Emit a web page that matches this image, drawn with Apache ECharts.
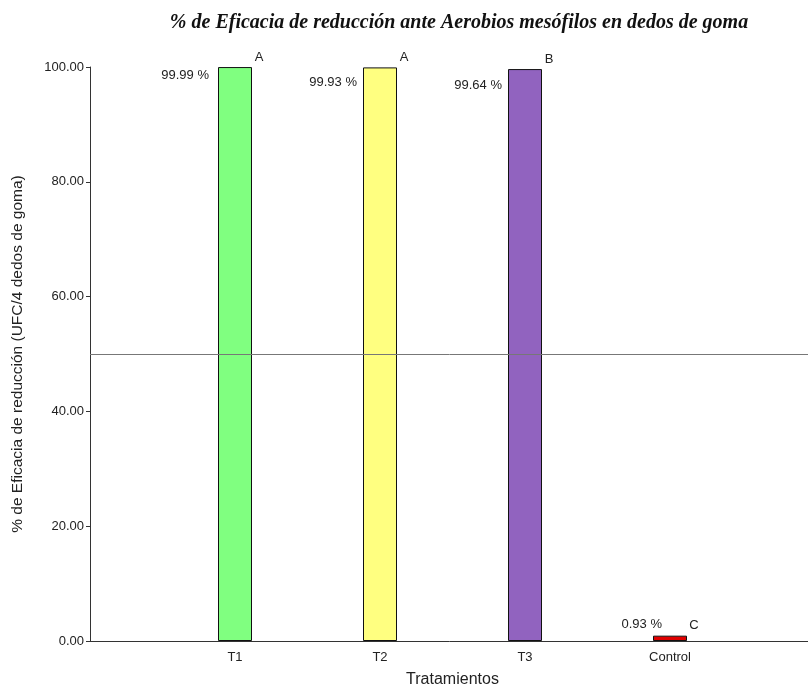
<!DOCTYPE html>
<html>
<head>
<meta charset="utf-8">
<script src="https://cdn.jsdelivr.net/npm/echarts@6/dist/echarts.min.js"></script>
<style>
  html, body { margin: 0; padding: 0; background: #fff; }
  #chart { width: 808px; height: 686px; }
</style>
</head>
<body>
<div id="chart"></div>
<script>
// Treatments and their reduction efficacy (%)
const categories = ['T1', 'T2', 'T3', 'Control'];
const efficacy = [99.99, 99.93, 99.64, 0.93];
const groupLetters = ['A', 'A', 'B', 'C'];
const barColors = ['#80FF80', '#FFFF80', '#9163BF', '#E00000'];
const yTicks = [0, 20, 40, 60, 80, 100];
const referenceLine = 50;

// Offsets of the value labels relative to each bar's top-left corner
const valueLabelOffsets = [[-9, 8], [-6, 15], [-6, 16], [9, -11]];

// Pad the category axis with empty slots on both sides
const axisCats = [''].concat(categories, ['']);

const barData = efficacy.map((v, i) => ({
  value: v,
  itemStyle: { color: barColors[i] },
  label: { offset: valueLabelOffsets[i] }
}));

const letterData = efficacy.map((v, i) => ({ value: v, letter: groupLetters[i] }));

const pad = arr => [null].concat(arr, [null]);

const sans = '"Liberation Sans", Arial, sans-serif';

const chart = echarts.init(document.getElementById('chart'), null, { renderer: 'canvas' });

chart.setOption({
  animation: false,
  backgroundColor: '#fff',
  title: {
    text: '% de Eficacia de reducción ante Aerobios mesófilos en dedos de goma',
    left: 454,
    textAlign: 'center',
    top: 8,
    textStyle: {
      fontFamily: '"Liberation Serif", "DejaVu Serif", serif',
      fontStyle: 'italic',
      fontWeight: 'bold',
      fontSize: 20,
      color: '#111'
    }
  },
  grid: { left: 90, top: 67, bottom: 45, right: -7, containLabel: false, outerBoundsMode: 'none' },
  xAxis: {
    type: 'category',
    data: axisCats,
    boundaryGap: false,
    name: 'Tratamientos',
    nameLocation: 'middle',
    nameGap: 31,
    nameTextStyle: { fontFamily: sans, fontSize: 16, color: '#222' },
    axisLine: { lineStyle: { color: '#333', width: 1 } },
    axisTick: { show: false },
    axisLabel: { fontFamily: sans, fontSize: 13, color: '#222', margin: 10, interval: 0 },
    splitLine: { show: false }
  },
  yAxis: {
    type: 'value',
    min: yTicks[0],
    max: yTicks[yTicks.length - 1],
    interval: 20,
    name: '% de Eficacia de reducción (UFC/4 dedos de goma)',
    nameLocation: 'middle',
    nameGap: 64,
    nameTextStyle: { fontFamily: sans, fontSize: 15.5, color: '#222' },
    axisLine: { show: true, lineStyle: { color: '#333', width: 1 } },
    axisTick: { show: true, length: 4, lineStyle: { color: '#333' } },
    axisLabel: {
      fontFamily: sans,
      fontSize: 13,
      color: '#222',
      margin: 6,
      formatter: v => v.toFixed(2)
    },
    splitLine: { show: false }
  },
  series: [
    {
      type: 'bar',
      data: pad(barData),
      barWidth: 34,
      itemStyle: { borderColor: '#111', borderWidth: 1 },
      label: {
        show: true,
        position: [0, 0],
        align: 'right',
        verticalAlign: 'middle',
        fontFamily: sans,
        fontSize: 13,
        color: '#222',
        formatter: p => p.value.toFixed(2) + ' %'
      },
      markLine: {
        silent: true,
        symbol: 'none',
        label: { show: false },
        lineStyle: { color: '#777', width: 1, type: 'solid' },
        data: [{ yAxis: referenceLine }]
      }
    },
    {
      type: 'bar',
      data: pad(letterData),
      barWidth: 34,
      barGap: '-100%',
      itemStyle: { color: 'rgba(0,0,0,0)' },
      label: {
        show: true,
        position: ['100%', 0],
        offset: [7, -10],
        align: 'center',
        verticalAlign: 'middle',
        fontFamily: sans,
        fontSize: 13,
        color: '#222',
        formatter: p => p.data.letter
      }
    }
  ]
});
</script>
</body>
</html>
